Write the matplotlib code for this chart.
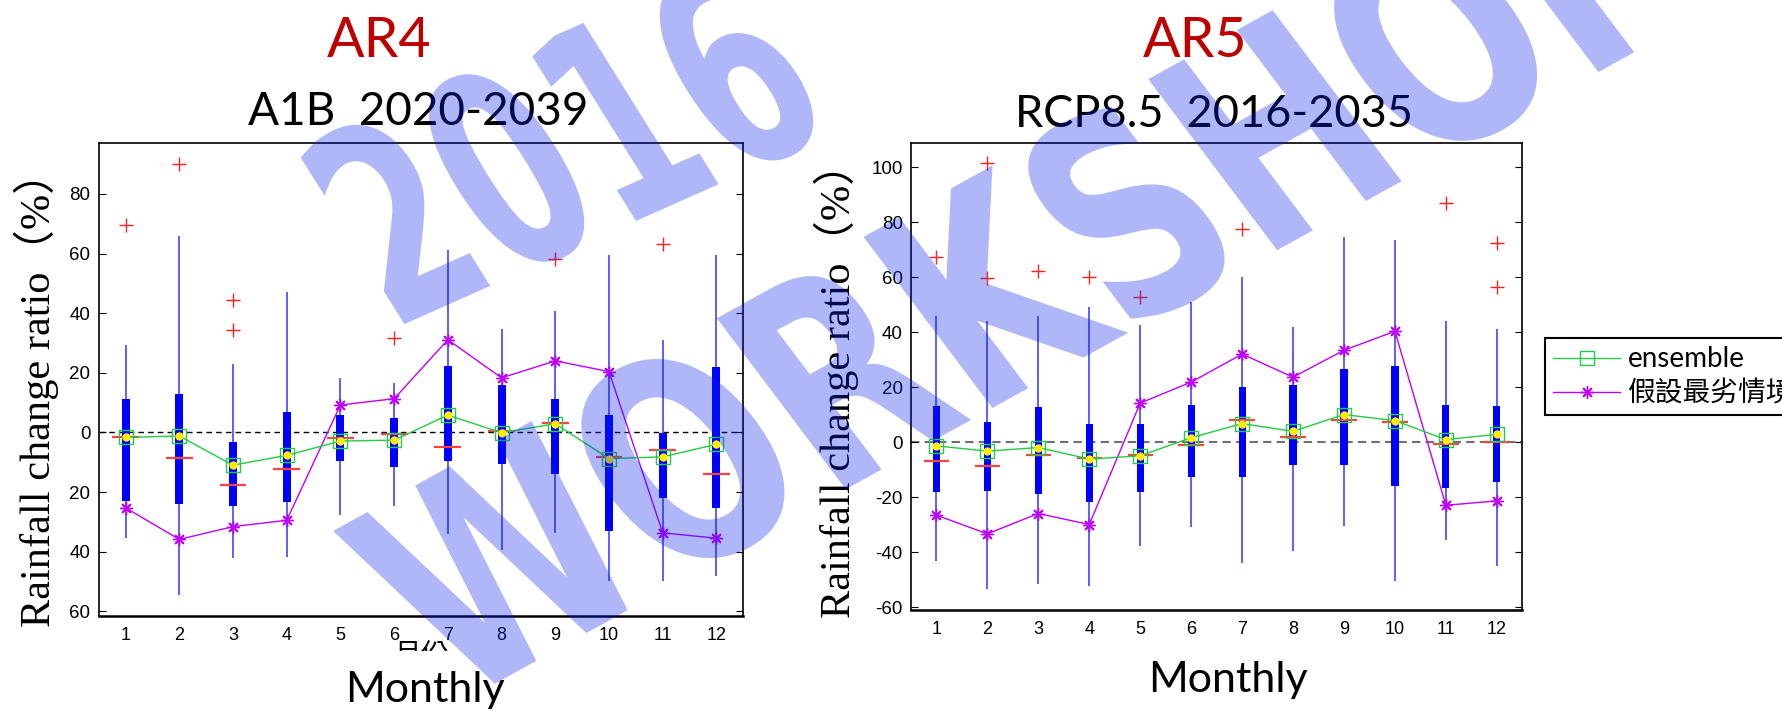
import matplotlib
matplotlib.use("Agg")
import matplotlib.pyplot as plt
import numpy as np
from matplotlib.font_manager import FontProperties
from matplotlib.lines import Line2D
from matplotlib.patches import PathPatch, Rectangle
from matplotlib.textpath import TextPath
from matplotlib.transforms import Affine2D

plt.rcParams['axes.unicode_minus'] = False

W, H = 1782, 712
months = np.arange(1, 13)

# AR4, A1B 2020-2039 (percent change per month)
ar4_whisker_hi = [29.4, 65.9, 22.9, 47.1, 18.3, 16.5, 61.1, 34.7, 40.7, 59.5, 31.0, 59.5]
ar4_q3 = [11.1, 12.8, -3.3, 6.8, 5.8, 4.7, 22.4, 15.9, 11.1, 5.7, -0.1, 21.8]
ar4_median = [-1.6, -8.6, -17.7, -12.3, -2.0, -0.5, -4.8, 0.5, 3.1, -8.4, -5.9, -14.0]
ar4_q1 = [-22.9, -24.1, -24.6, -23.5, -9.6, -11.6, -9.6, -10.7, -14.0, -33.1, -21.9, -25.2]
ar4_whisker_lo = [-35.5, -54.6, -42.3, -41.8, -27.7, -24.6, -34.2, -39.3, -33.7, -49.8, -49.7, -48.2]
ar4_ensemble = [-1.7, -1.2, -11.0, -7.7, -2.9, -2.6, 5.8, -0.1, 2.9, -8.8, -8.2, -4.0]
ar4_worst = [-25.3, -35.9, -31.6, -29.5, 9.2, 11.3, 31.1, 18.3, 24.0, 20.4, -33.7, -35.5]
ar4_outlier_month = [1, 2, 3, 3, 6, 9, 11]
ar4_outlier_value = [69.6, 90.0, 44.4, 34.3, 31.6, 58.3, 63.3]

# AR5, RCP8.5 2016-2035
ar5_whisker_hi = [46.0, 44.3, 46.0, 49.4, 42.6, 51.1, 60.3, 42.0, 74.7, 73.6, 44.3, 41.2]
ar5_q3 = [13.1, 7.4, 12.7, 6.8, 6.8, 13.7, 20.1, 20.7, 26.5, 27.6, 13.7, 13.1]
ar5_median = [-6.8, -8.5, -4.5, -5.8, -4.5, -1.0, 8.1, 1.9, 8.1, 7.5, -0.5, 0.1]
ar5_q1 = [-18.2, -17.8, -18.7, -21.8, -18.2, -12.5, -12.5, -8.4, -8.4, -15.9, -16.5, -14.3]
ar5_whisker_lo = [-43.1, -53.4, -51.6, -52.2, -37.8, -30.9, -44.0, -39.5, -30.4, -50.5, -35.4, -45.1]
ar5_ensemble = [-1.3, -3.2, -1.9, -6.1, -4.9, 1.7, 6.8, 4.0, 10.1, 7.9, 1.0, 2.9]
ar5_worst = [-26.5, -33.3, -25.9, -29.9, 14.3, 21.9, 32.1, 23.7, 33.5, 40.4, -22.9, -21.3]
ar5_outlier_month = [1, 2, 2, 3, 4, 5, 7, 11, 12, 12]
ar5_outlier_value = [67.6, 101.6, 59.7, 62.2, 60.3, 52.7, 77.6, 86.9, 72.4, 56.5]

ar4_yticks = [-60, -40, -20, 0, 20, 40, 60, 80]
ar4_yticklabels = ['60', '40', '20', '0', '20', '40', '60', '80']
ar5_yticks = [-60, -40, -20, 0, 20, 40, 60, 80, 100]
ar5_yticklabels = ['-60', '-40', '-20', '0', '20', '40', '60', '80', '100']

GREEN = '#22cc44'
PURPLE = '#c000ff'
TICK_FONT = 'Liberation Sans'
TITLE_FONT = 'Lato'
STAR = (8, 2, 0)


def px(x, y):
    # pixel position (y measured from the top) -> figure fraction
    return x / W, 1 - y / H


def draw_panel(ax, hi, q3, med, q1, lo, ens, worst, out_m, out_v, box_w, zero_color, zero_lw, zero_dash):
    ax.axhline(0, color=zero_color, lw=zero_lw, ls=(0, zero_dash), zorder=1)
    ax.vlines(months, lo, hi, color='#3333ff', lw=1.1, zorder=2)
    ax.bar(months, np.subtract(q3, q1), bottom=q1, width=box_w, color='#0000ff', zorder=3)
    ax.hlines(med, months - 0.25, months + 0.25, color='#ff4040', lw=1.6, zorder=4)
    ax.plot(out_m, out_v, '+', color='#ff2020', ms=10, mew=1.0, zorder=4)
    ax.plot(months, worst, color=PURPLE, lw=1.0, marker=STAR, ms=9, mew=1.0, zorder=5)
    ax.plot(months, ens, color=GREEN, lw=1.0, marker='s', ms=10, mfc='none', mew=1.0, zorder=6)
    ax.plot(months, ens, 'o', color='#ffee00', ms=6, mec='none', zorder=7)

    ax.set_xlim(0.5, 12.5)
    ax.set_xticks(months)
    ax.tick_params(axis='x', length=0, pad=8, labelsize=13)
    ax.tick_params(axis='y', direction='in', length=5, right=True, labelsize=13.5, pad=6)
    for lab in ax.get_xticklabels() + ax.get_yticklabels():
        lab.set_family(TICK_FONT)
    for side in ['left', 'right', 'top']:
        ax.spines[side].set_linewidth(1.2)
    ax.spines['bottom'].set_linewidth(1.8)


def watermark(fig, text, center, length, height, angle, shear=-8):
    path = TextPath((0, 0), text, size=100, prop=FontProperties(family='DejaVu Sans', weight='bold'))
    ext = path.get_extents()
    tr = (Affine2D()
          .translate(-(ext.x0 + ext.x1) / 2, -(ext.y0 + ext.y1) / 2)
          .scale(length / ext.width, height / ext.height)
          .skew_deg(shear, 0)
          .rotate_deg(angle)
          .translate(center[0], H - center[1])
          .scale(1 / W, 1 / H))
    patch = PathPatch(tr.transform_path(path), transform=fig.transFigure,
                      facecolor='#0821ef', edgecolor='none', alpha=0.32, zorder=50)
    fig.add_artist(patch)


fig = plt.figure(figsize=(W / 100, H / 100), dpi=100)

ax1 = fig.add_axes([98.7 / W, 1 - 615.7 / H, (743.3 - 98.7) / W, (615.7 - 143.3) / H])
draw_panel(ax1, ar4_whisker_hi, ar4_q3, ar4_median, ar4_q1, ar4_whisker_lo, ar4_ensemble, ar4_worst,
           ar4_outlier_month, ar4_outlier_value, 0.15, 'black', 1.0, (4, 3))
ax1.set_ylim(-61.5, 97)
ax1.set_yticks(ar4_yticks)
ax1.set_yticklabels(ar4_yticklabels, family=TICK_FONT)

ax2 = fig.add_axes([911 / W, 1 - 610 / H, (1522.3 - 911) / W, (610 - 142.7) / H])
draw_panel(ax2, ar5_whisker_hi, ar5_q3, ar5_median, ar5_q1, ar5_whisker_lo, ar5_ensemble, ar5_worst,
           ar5_outlier_month, ar5_outlier_value, 0.14, '#707070', 1.5, (4, 2.5))
ax2.set_ylim(-61, 109)
ax2.set_yticks(ar5_yticks)
ax2.set_yticklabels(ar5_yticklabels, family=TICK_FONT)

# titles
fig.text(*px(379, 57), 'AR4', color='#c00000', fontsize=40, family=TITLE_FONT, ha='center', va='baseline')
fig.text(*px(418, 125), 'A1B  2020-2039', color='black', fontsize=33, family=TITLE_FONT, ha='center', va='baseline')
fig.text(*px(1195, 57), 'AR5', color='#c00000', fontsize=40, family=TITLE_FONT, ha='center', va='baseline')
fig.text(*px(1214, 127), 'RCP8.5  2016-2035', color='black', fontsize=32.5, family=TITLE_FONT, ha='center', va='baseline')

# y labels
ylab_font = ['Liberation Serif', 'Noto Sans CJK TC']
fig.text(*px(36, 389), 'Rainfall change ratio（%）', rotation=90, fontsize=30.5,
         family=ylab_font, ha='center', va='center')
fig.text(*px(836, 380), 'Rainfall change ratio（%）', rotation=90, fontsize=30.5,
         family=ylab_font, ha='center', va='center')

# old Chinese axis label, mostly hidden under the English one
fig.text(*px(421, 641), '月份', fontsize=20, family='Noto Sans CJK TC', ha='center', va='top')
fig.add_artist(Rectangle(px(330, 712), 200 / W, 61 / H, transform=fig.transFigure,
                         facecolor='white', edgecolor='none', zorder=5))
fig.text(*px(425, 702), 'Monthly', fontsize=31, family=TITLE_FONT, ha='center', va='baseline', zorder=6)
fig.text(*px(1228, 692), 'Monthly', fontsize=31, family=TITLE_FONT, ha='center', va='baseline', zorder=6)

# legend
handles = [
    Line2D([], [], color=GREEN, lw=1.0, marker='s', ms=10, mfc='none', mew=1.0),
    Line2D([], [], color=PURPLE, lw=1.0, marker=STAR, ms=9, mew=1.0),
]
leg = fig.legend(handles, ['ensemble', '假設最劣情境'], loc='upper left',
                 bbox_to_anchor=px(1545, 338), borderaxespad=0, numpoints=1,
                 prop=FontProperties(family=['Lato', 'Noto Sans CJK TC'], size=20),
                 handlelength=2.4, handletextpad=0.3, labelspacing=0.3, borderpad=0.3,
                 fancybox=False, framealpha=1)
leg.get_frame().set_edgecolor('black')
leg.get_frame().set_linewidth(1.5)

# workshop watermark on top of everything
watermark(fig, '2016', (565, 142), 470, 210, 24)
watermark(fig, 'WORKSHOP', (1023, 270), 1430, 220, 29)

fig.savefig('out.png', dpi=100)
